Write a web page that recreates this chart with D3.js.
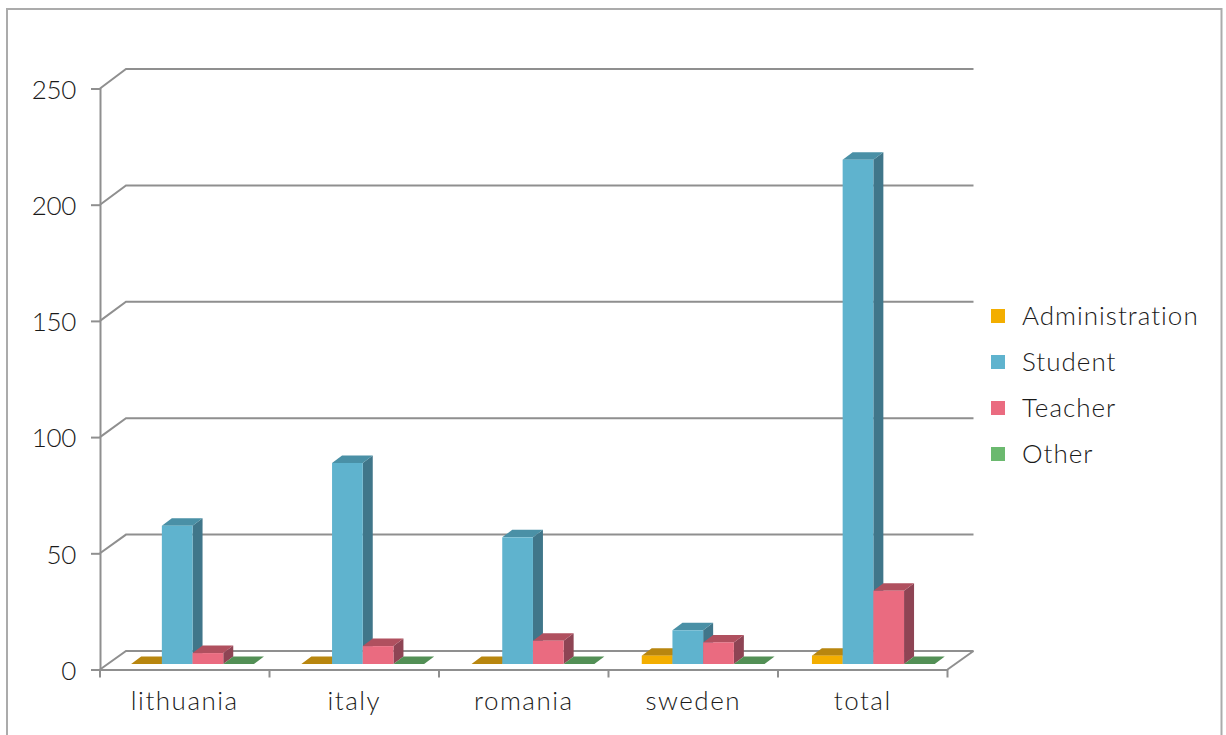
<!DOCTYPE html>
<html>
<head>
<meta charset="utf-8">
<script src="https://cdn.jsdelivr.net/npm/d3@7"></script>
<style>
  html, body { margin: 0; padding: 0; background: #fff; overflow: hidden; }
  text { font-family: "Lato", "Open Sans", sans-serif; font-weight: 300; fill: #1a1a1a; }
</style>
</head>
<body>
<svg id="chart" width="1226" height="735"></svg>
<script>
// Survey respondents by country and role, as a clustered pseudo-3D column chart.
const categories = ["lithuania", "italy", "romania", "sweden", "total"];
const seriesNames = ["Administration", "Student", "Teacher", "Other"];
const administration = [0, 0, 0, 3.6, 3.6];
const student = [59.5, 86.5, 54.5, 14.5, 217];
const teacher = [4.7, 7.7, 10, 9.3, 31.5];
const other = [0, 0, 0, 0, 0];
const yTicks = [0, 50, 100, 150, 200, 250];

const seriesValues = [administration, student, teacher, other];
const faceColors = [
  { front: "#f3ae00", top: "#b8860f", side: "#96700c", key: "#f3ae00" },
  { front: "#5fb3ce", top: "#4a90a6", side: "#40768a", key: "#5fb3ce" },
  { front: "#ea6b80", top: "#b0505f", side: "#8e4454", key: "#ea6b80" },
  { front: "#6bb96f", top: "#528f55", side: "#447a47", key: "#6bb96f" }
];

const svg = d3.select("#chart");
const axisColor = "#8f8f8f";

// Outer chart frame; its lower edge runs past the bottom of the page.
svg.append("rect")
  .attr("x", 7).attr("y", 9).attr("width", 1214.5).attr("height", 760)
  .attr("fill", "#fff").attr("stroke", "#ababab").attr("stroke-width", 2);

const x = d3.scaleBand().domain(categories).range([100, 947.5]);
const y = d3.scaleLinear().domain([0, 250]).range([669.5, 88.5]);
// The wall is a little further away but reads slightly taller in this projection.
const yWall = d3.scaleLinear().domain([0, 250]).range([651, 69]);
const wallDx = 26;

// Columns stand part-way into the floor and have their own depth and spacing.
const xBars = d3.scaleBand().domain(categories).range([107.8, 958.8]);
const planeDy = -5.5;
const depthDx = 10, depthDy = -7.5;
const barWidth = 30.7;

const grid = svg.append("g")
  .attr("fill", "none").attr("stroke", axisColor).attr("stroke-width", 2);

// Back wall gridlines and the slanted connectors down to the front axis.
yTicks.forEach(t => {
  grid.append("path").attr("d", d3.line()([
    [x.range()[0], y(t)],
    [x.range()[0] + wallDx, yWall(t)],
    [x.range()[1] + wallDx, yWall(t)]
  ]));
});
// Right edge of the floor.
grid.append("path").attr("d", d3.line()([
  [x.range()[1], y(0)],
  [x.range()[1] + wallDx, yWall(0)]
]));

// Front axes drawn by d3-axis.
const yAxis = svg.append("g")
  .attr("transform", "translate(100,0)")
  .call(d3.axisLeft(y).tickValues(yTicks).tickSize(9).tickPadding(15));
const xAxis = svg.append("g")
  .attr("transform", `translate(0,${y(0)})`)
  .call(d3.axisBottom(x).tickSize(0).tickPadding(22));

[yAxis, xAxis].forEach(a => {
  a.select(".domain").attr("stroke", axisColor).attr("stroke-width", 2);
  a.selectAll(".tick line").attr("stroke", axisColor).attr("stroke-width", 2);
  a.selectAll("text")
    .style("font-family", '"Lato", "Open Sans", sans-serif')
    .style("font-weight", 300)
    .style("font-size", "26px")
    .attr("fill", "#1a1a1a");
});
yAxis.selectAll("text").attr("dy", "0.38em").style("letter-spacing", "-0.3px");
xAxis.selectAll("text").attr("dy", "0.71em").style("letter-spacing", "1.5px");

// Category boundary ticks along the bottom axis.
const edges = categories.map(c => x(c)).concat(x.range()[1]);
xAxis.selectAll("line.edge").data(edges).join("line")
  .attr("class", "edge")
  .attr("x1", d => d).attr("x2", d => d)
  .attr("y1", 0).attr("y2", 8)
  .attr("stroke", axisColor).attr("stroke-width", 2);

// Columns, left to right, so each one overlaps the side of its neighbour.
const inner = d3.scaleBand().domain(d3.range(seriesNames.length))
  .range([0, barWidth * seriesNames.length]);
const bars = svg.append("g");
const baseY = y(0) + planeDy;

categories.forEach((cat, ci) => {
  const groupStart = xBars(cat) + (x.bandwidth() - inner.range()[1]) / 2;
  seriesValues.forEach((vals, si) => {
    const v = vals[ci];
    const c = faceColors[si];
    const x0 = groupStart + inner(si);
    const x1 = x0 + inner.bandwidth();
    const yTop = y(v) + planeDy;
    const g = bars.append("g");
    if (v > 0) {
      g.append("path").attr("fill", c.side).attr("d", d3.line()([
        [x1, yTop], [x1 + depthDx, yTop + depthDy],
        [x1 + depthDx, baseY + depthDy], [x1, baseY]
      ]) + "Z");
    }
    g.append("path").attr("fill", c.top).attr("d", d3.line()([
      [x0, yTop], [x0 + depthDx, yTop + depthDy],
      [x1 + depthDx, yTop + depthDy], [x1, yTop]
    ]) + "Z");
    if (v > 0) {
      g.append("rect")
        .attr("x", x0).attr("y", yTop)
        .attr("width", x1 - x0).attr("height", baseY - yTop)
        .attr("fill", c.front);
    }
  });
});

// Legend on the right.
const legendY = d3.scalePoint().domain(seriesNames).range([316, 454]);
const legend = svg.append("g");
seriesNames.forEach((name, i) => {
  legend.append("rect")
    .attr("x", 991).attr("y", legendY(name) - 7)
    .attr("width", 14).attr("height", 14)
    .attr("fill", faceColors[i].key);
  legend.append("text")
    .attr("x", 1022).attr("y", legendY(name) + 9)
    .style("font-size", "26px")
    .style("letter-spacing", "1px")
    .text(name);
});
</script>
</body>
</html>
